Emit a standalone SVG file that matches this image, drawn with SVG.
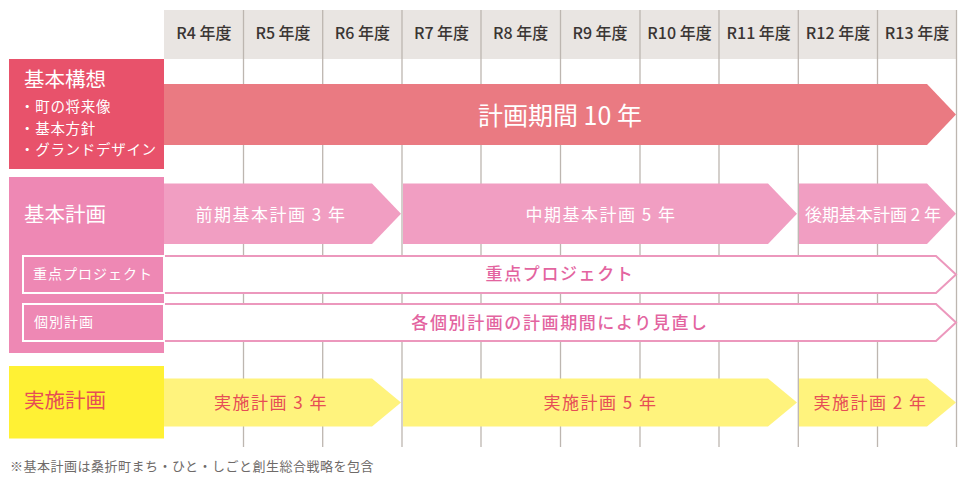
<svg xmlns="http://www.w3.org/2000/svg" width="966" height="483" viewBox="0 0 966 483">
<style>
text{font-family:"Noto Sans CJK JP","Noto Sans",sans-serif;}
.hd{font-size:16px;fill:#3a3533;text-anchor:middle;font-weight:500;}
.grid{stroke:#bdb6b0;stroke-width:1.3;}
.big{font-size:20.5px;fill:#fff;}
.bul{font-size:14.5px;fill:#fff;letter-spacing:0.7px;}
.lab{font-size:14px;fill:#fff;letter-spacing:1px;}
.pk{font-size:17px;fill:#fff;text-anchor:middle;letter-spacing:1.5px;}
.yl{font-size:17px;fill:#e64d55;text-anchor:middle;letter-spacing:1.5px;}
.ol{fill:#fff;stroke:#ec98bd;stroke-width:2;}
.olt{font-size:17px;fill:#e3649f;text-anchor:middle;font-weight:500;letter-spacing:1.6px;}
.pa{fill:#f19ec2;}
.ya{fill:#fff37d;}
.lb{fill:#ee88b4;stroke:#fff;stroke-width:2;}
</style>
<rect width="966" height="483" fill="#fff"/>
<g id="header">
<rect x="164" y="10" width="792" height="49" fill="#e9e5e2"/>
<text class="hd" x="203.8" y="39">R4 年度</text>
<text class="hd" x="283" y="39">R5 年度</text>
<text class="hd" x="362.3" y="39">R6 年度</text>
<text class="hd" x="441.5" y="39">R7 年度</text>
<text class="hd" x="520.7" y="39">R8 年度</text>
<text class="hd" x="600" y="39">R9 年度</text>
<text class="hd" x="679.5" y="39">R10 年度</text>
<text class="hd" x="758.7" y="39">R11 年度</text>
<text class="hd" x="838" y="39">R12 年度</text>
<text class="hd" x="917" y="39">R13 年度</text>
</g>
<g id="grid" class="grid">
<line x1="243.5" y1="10" x2="243.5" y2="447"/>
<line x1="322.7" y1="10" x2="322.7" y2="447"/>
<line x1="402" y1="10" x2="402" y2="447"/>
<line x1="481" y1="10" x2="481" y2="447"/>
<line x1="560.5" y1="10" x2="560.5" y2="447"/>
<line x1="640" y1="10" x2="640" y2="447"/>
<line x1="719" y1="10" x2="719" y2="447"/>
<line x1="798.3" y1="10" x2="798.3" y2="447"/>
<line x1="877.5" y1="10" x2="877.5" y2="447"/>
<line x1="956.5" y1="10" x2="956.5" y2="447"/>
</g>
<g id="kihon-koso">
<rect x="9" y="59" width="155" height="110" fill="#e8526b"/>
<text class="big" x="24" y="87">基本構想</text>
<text class="bul" x="20" y="112">・町の将来像</text>
<text class="bul" x="20" y="134">・基本方針</text>
<text class="bul" x="20" y="155">・グランドデザイン</text>
</g>
<g id="kikan-10">
<polygon points="164,84 927,84 956,114.5 927,145 164,145" fill="#ea7a82"/>
<text x="560" y="125" font-size="25" fill="#fff" text-anchor="middle">計画期間 10 年</text>
</g>
<g id="kihon-keikaku">
<rect x="9" y="177" width="155" height="176" fill="#ee88b4"/>
<text class="big" x="24" y="222">基本計画</text>
</g>
<g id="zenki">
<polygon class="pa" points="164,183.5 372,183.5 401,213.75 372,244 164,244"/>
<text class="pk" x="271" y="221">前期基本計画 3 年</text>
</g>
<g id="chuki">
<polygon class="pa" points="403,183.5 768,183.5 797,213.75 768,244 403,244"/>
<text class="pk" x="601" y="221">中期基本計画 5 年</text>
</g>
<g id="koki">
<polygon class="pa" points="799,183.5 927,183.5 956,213.75 927,244 799,244"/>
<text class="pk" x="873" y="221" style="letter-spacing:0">後期基本計画 2 年</text>
</g>
<g id="juten">
<polygon class="ol" points="163,256 936,256 956,274.5 936,293 163,293"/>
<rect class="lb" x="23" y="256" width="141" height="37"/>
<text class="lab" x="33" y="279">重点プロジェクト</text>
<text class="olt" x="560" y="280">重点プロジェクト</text>
</g>
<g id="kobetsu">
<polygon class="ol" points="163,304 936,304 956,322.5 936,341 163,341"/>
<rect class="lb" x="23" y="304" width="141" height="37"/>
<text class="lab" x="34" y="327">個別計画</text>
<text class="olt" x="560" y="329">各個別計画の計画期間により見直し</text>
</g>
<g id="jisshi">
<rect x="9" y="366" width="155" height="72.5" fill="#fff134"/>
<text class="big" x="24" y="408" style="fill:#e64d55">実施計画</text>
</g>
<g id="jisshi-3">
<polygon class="ya" points="164,378.5 372,378.5 401,402.5 372,426.5 164,426.5"/>
<text class="yl" x="271" y="409">実施計画 3 年</text>
</g>
<g id="jisshi-5">
<polygon class="ya" points="403,378.5 768,378.5 797,402.5 768,426.5 403,426.5"/>
<text class="yl" x="600.5" y="409">実施計画 5 年</text>
</g>
<g id="jisshi-2">
<polygon class="ya" points="799,378.5 927,378.5 956,402.5 927,426.5 799,426.5"/>
<text class="yl" x="870.5" y="409">実施計画 2 年</text>
</g>
<g id="note">
<text x="10" y="471" font-size="13" fill="#6e6a68" letter-spacing="0.5">※基本計画は桑折町まち・ひと・しごと創生総合戦略を包含</text>
</g>
</svg>
